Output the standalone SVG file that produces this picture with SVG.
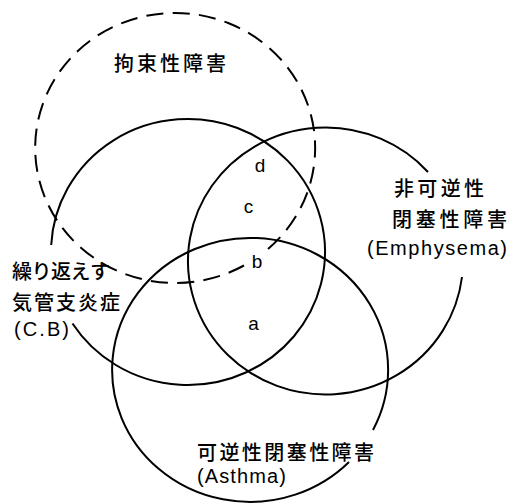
<svg xmlns="http://www.w3.org/2000/svg" width="508" height="503" viewBox="0 0 508 503">
<style>
.ring{fill:none;stroke:#000;stroke-width:2}
.dash{fill:none;stroke:#000;stroke-width:2;stroke-dasharray:20.5 11.1}
.jp{font-family:"Noto Sans CJK JP","Noto Sans CJK SC",sans-serif;font-size:20px;font-weight:500;fill:#000}
.en{font-family:"Liberation Sans",Arial,sans-serif;font-size:20px;fill:#000}
.lt{font-family:"Liberation Sans",Arial,sans-serif;font-size:19px;fill:#000;text-anchor:middle}
</style>
<rect width="508" height="503" fill="#fff"/>
<g id="connectors"></g>
<g id="restrictive">
<path class="dash" pathLength="1000" d="M 268 249 A 140 135 0 1 0 244 265.5"/>
<text class="jp" x="114" y="71" textLength="112" lengthAdjust="spacing">拘束性障害</text>
</g>
<g id="chronic-bronchitis">
<path class="ring" d="M 51.19 245 A 137 133 0 1 1 72.5 323.5"/>
<text class="jp" x="12" y="279" textLength="98" lengthAdjust="spacing">繰り返えす</text>
<text class="jp" x="12" y="310" textLength="108" lengthAdjust="spacing">気管支炎症</text>
<text class="en" x="14" y="336" textLength="55" lengthAdjust="spacing">(C.B)</text>
</g>
<g id="emphysema">
<path class="ring" d="M 462 277 A 137.5 133.5 0 1 1 428 172"/>
<text class="jp" x="394" y="196" textLength="90" lengthAdjust="spacing">非可逆性</text>
<text class="jp" x="392" y="227" textLength="115" lengthAdjust="spacing">閉塞性障害</text>
<text class="en" x="367" y="255" textLength="140" lengthAdjust="spacing">(Emphysema)</text>
</g>
<g id="asthma">
<path class="ring" d="M 349 462 A 138 132 0 1 1 373 430"/>
<text class="jp" x="197" y="460" textLength="177" lengthAdjust="spacing">可逆性閉塞性障害</text>
<text class="en" x="197" y="483" textLength="89" lengthAdjust="spacing">(Asthma)</text>
</g>
<g id="regions">
<text class="lt" x="260" y="172">d</text>
<text class="lt" x="248.5" y="213">c</text>
<text class="lt" x="257" y="268">b</text>
<text class="lt" x="253.5" y="330">a</text>
</g>
</svg>
